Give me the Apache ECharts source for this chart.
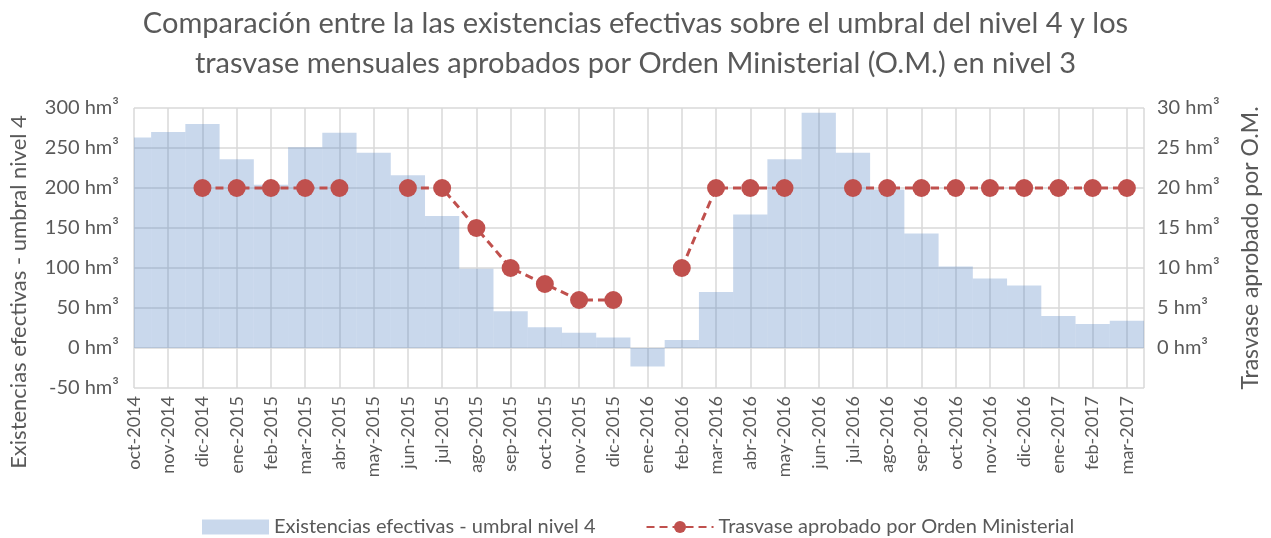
<!DOCTYPE html>
<html>
<head>
<meta charset="utf-8">
<script src="https://cdn.jsdelivr.net/npm/echarts@6/dist/echarts.min.js"></script>
<style>
  html, body { margin: 0; padding: 0; background: #fff; }
  #chart { width: 1271px; height: 538px; }
</style>
</head>
<body>
<div id="chart"></div>
<script>
// months on the x axis
var months = ['oct-2014', 'nov-2014', 'dic-2014', 'ene-2015', 'feb-2015', 'mar-2015',
    'abr-2015', 'may-2015', 'jun-2015', 'jul-2015', 'ago-2015', 'sep-2015',
    'oct-2015', 'nov-2015', 'dic-2015', 'ene-2016', 'feb-2016', 'mar-2016',
    'abr-2016', 'may-2016', 'jun-2016', 'jul-2016', 'ago-2016', 'sep-2016',
    'oct-2016', 'nov-2016', 'dic-2016', 'ene-2017', 'feb-2017', 'mar-2017'];

// existencias efectivas - umbral nivel 4 (hm3)
var existencias = [263, 270, 280, 236, 204, 251, 269, 244, 216, 165, 99, 46,
    26, 19, 13, -23, 10, 70, 167, 236, 294, 244, 198, 143,
    102, 87, 78, 40, 30, 34];

// trasvase aprobado por O.M. (hm3), null = sin dato
var trasvase = [null, null, 20, 20, 20, 20, 20, null, 20, 20, 15, 10,
    8, 6, 6, null, 10, 20, 20, 20, null, 20, 20, 20,
    20, 20, 20, 20, 20, 20];

var leftTicks = { min: -50, max: 300, step: 50 };
var rightTicks = { min: -5, max: 30, step: 5 };

var grey = '#595959';
var font = 'Lato';
var barColor = 'rgba(75,125,192,0.3)';

var chart = echarts.init(document.getElementById('chart'));

var barData = [];
var lineData = [];
for (var i = 0; i < months.length; i++) {
    barData.push([i, existencias[i]]);
    lineData.push([i, trasvase[i] == null ? '-' : trasvase[i]]);
}

// one month wide block centred on its tick (Excel date axis look)
function renderBlock(params, api) {
    var x = api.value(0);
    var y = api.value(1);
    var a = api.coord([x - 0.5, 0]);
    var b = api.coord([x + 0.5, y]);
    return {
        type: 'rect',
        shape: {
            x: a[0],
            y: Math.min(a[1], b[1]),
            width: b[0] - a[0],
            height: Math.abs(b[1] - a[1])
        },
        style: { fill: barColor }
    };
}

var option = {
    animation: false,
    textStyle: { fontFamily: font },
    title: {
        text: 'Comparación entre la las existencias efectivas sobre el umbral del nivel 4 y los\ntrasvase mensuales aprobados por Orden Ministerial (O.M.) en nivel 3',
        left: 'center',
        top: -1,
        textStyle: { fontSize: 29, fontWeight: 'normal', color: grey, lineHeight: 40, fontFamily: font }
    },
    legend: {
        top: 512,
        left: 197,
        itemGap: 50,
        itemWidth: 67,
        itemHeight: 15,
        textStyle: { fontSize: 20, color: grey },
        data: [
            { name: 'Existencias efectivas - umbral nivel 4', icon: 'rect', itemStyle: { color: barColor } },
            'Trasvase aprobado por Orden Ministerial'
        ]
    },
    grid: { left: 133, right: 127, top: 108, bottom: 150 },
    xAxis: {
        type: 'value',
        min: 0,
        max: months.length - 0.5,
        interval: 1,
        axisLine: { show: false, onZero: false },
        axisTick: { show: false },
        splitLine: { show: true, lineStyle: { color: '#d9d9d9', width: 1.5 } },
        axisLabel: {
            rotate: 90,
            fontSize: 18,
            color: grey,
            margin: 8,
            showMaxLabel: false,
            formatter: function (v) {
                return Number.isInteger(v) ? months[v] : '';
            }
        }
    },
    yAxis: [{
        type: 'value',
        min: leftTicks.min,
        max: leftTicks.max,
        interval: leftTicks.step,
        name: 'Existencias efectivas - umbral nivel 4',
        nameLocation: 'middle',
        nameGap: 104,
        nameRotate: 90,
        nameTextStyle: { fontSize: 22, color: grey, padding: [0, 88, 0, 0] },
        axisLine: { show: false },
        axisTick: { show: false },
        splitLine: { lineStyle: { color: '#d9d9d9', width: 1.5 } },
        axisLabel: {
            fontSize: 20,
            color: grey,
            margin: 15,
            formatter: function (v) { return v + ' hm³'; }
        }
    }, {
        type: 'value',
        min: rightTicks.min,
        max: rightTicks.max,
        interval: rightTicks.step,
        name: 'Trasvase aprobado por O.M.',
        nameLocation: 'middle',
        nameGap: 95,
        nameRotate: 90,
        nameTextStyle: { fontSize: 23, color: grey },
        axisLine: { show: false },
        axisTick: { show: false },
        splitLine: { show: false },
        axisLabel: {
            fontSize: 20,
            color: grey,
            margin: 13,
            formatter: function (v) { return v < 0 ? '' : v + ' hm³'; }
        }
    }],
    series: [{
        name: 'Existencias efectivas - umbral nivel 4',
        type: 'custom',
        yAxisIndex: 0,
        clip: true,
        renderItem: renderBlock,
        encode: { x: 0, y: 1 },
        itemStyle: { color: barColor },
        data: barData
    }, {
        name: 'Trasvase aprobado por Orden Ministerial',
        type: 'line',
        yAxisIndex: 1,
        connectNulls: false,
        symbol: 'circle',
        symbolSize: 18,
        itemStyle: { color: '#c0504d' },
        lineStyle: { color: '#c0504d', width: 3, type: [8, 5] },
        data: lineData
    }]
};

chart.setOption(option);
</script>
</body>
</html>
